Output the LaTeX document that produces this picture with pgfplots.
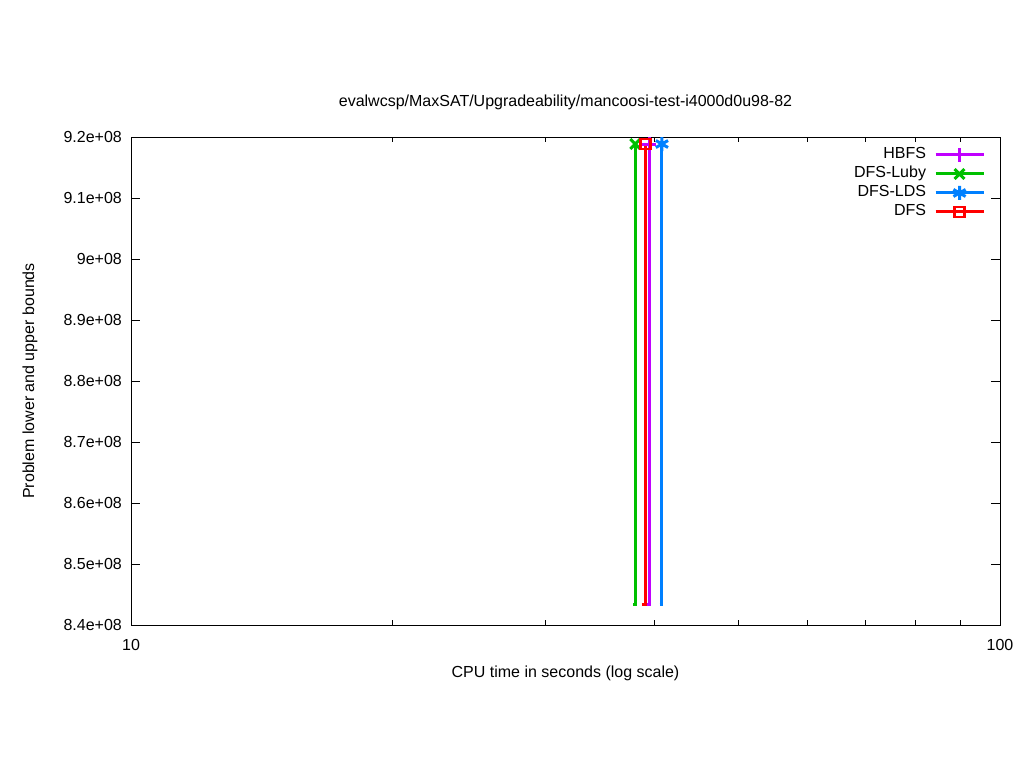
\documentclass[border=0pt]{standalone}
\usepackage{fontspec}
\setmainfont{Liberation Sans}
\usepackage{pgfplots}
\pgfplotsset{compat=1.18}
\definecolor{chbfs}{HTML}{C000FF}
\definecolor{cluby}{HTML}{00C000}
\definecolor{clds}{HTML}{0080FF}
\definecolor{cdfs}{HTML}{FF0000}
\begin{document}
\fontsize{16}{19}\selectfont
\begin{tikzpicture}[x=1pt,y=1pt]
\useasboundingbox (0,0) rectangle (1024,768);
\begin{axis}[
  at={(131pt,143pt)}, anchor=south west,
  scale only axis, width=869pt, height=488pt,
  xmode=log, xmin=10, xmax=100, ymin=8.4e8, ymax=9.2e8,
  xtick={10,100}, xticklabels={10,100},
  minor xtick={20,30,40,50,60,70,80,90},
  ytick={8.4e8,8.5e8,8.6e8,8.7e8,8.8e8,8.9e8,9.0e8,9.1e8,9.2e8},
  yticklabels={8.4e+08,8.5e+08,8.6e+08,8.7e+08,8.8e+08,8.9e+08,9e+08,9.1e+08,9.2e+08},
  scaled y ticks=false,
  tick align=inside, major tick length=9pt, minor tick length=5pt,
  every tick/.style={black, line width=1pt},
  axis line style={line width=1pt},
  yticklabel style={inner sep=0pt, xshift=-9pt},
  xticklabel style={inner sep=0pt, yshift=-14pt},
  title={evalwcsp/MaxSAT/Upgradeability/mancoosi-test-i4000d0u98-82},
  title style={at={(axis description cs:0.5,1.0512)}, anchor=base, inner sep=0pt},
  xlabel={CPU time in seconds (log scale)},
  xlabel style={at={(axis description cs:0.5,-0.1066)}, anchor=base, inner sep=0pt},
  ylabel={Problem lower and upper bounds},
  ylabel style={at={(axis description cs:-0.1162,0.5)}, anchor=center, inner sep=0pt},
  legend plot pos=right,
  legend cell align=right,
  legend style={draw=none, fill=none, inner sep=0pt, outer sep=0pt,
    at={(axis description cs:0.98274,0.9775)}, anchor=north east,
    nodes={inner sep=0pt, text height=11pt, text depth=3pt},
    column sep=8pt, row sep=5pt},
  legend image code/.code={\draw[#1, mark=none] (0pt,0pt) -- (48pt,0pt); \draw[#1] plot coordinates {(24pt,0pt)};},
]
% HBFS
\addplot[chbfs, line width=3pt, forget plot] coordinates {(39.25,8.4344e8) (39.46,8.4344e8) (39.46,9.1885e8)};
\addplot[chbfs, line width=3pt, only marks, mark=+, mark size=7pt] coordinates {(39.46,9.1885e8)};
\addlegendentry{HBFS}
% DFS-Luby
\addplot[cluby, line width=3pt, forget plot] coordinates {(37.83,8.4344e8) (38.05,8.4344e8) (38.05,9.1885e8)};
\addplot[cluby, line width=3pt, only marks, mark=x, mark size=7pt] coordinates {(38.05,9.1885e8)};
\addlegendentry{DFS-Luby}
% DFS-LDS
\addplot[clds, line width=3pt, forget plot] coordinates {(40.58,8.4344e8) (40.83,8.4344e8) (40.83,9.1885e8)};
\addplot[clds, line width=3pt, only marks, mark=asterisk, mark size=7pt] coordinates {(40.83,9.1885e8)};
\addlegendentry{DFS-LDS}
% DFS
\addplot[cdfs, line width=3pt, forget plot] coordinates {(38.73,8.4344e8) (39.08,8.4344e8) (39.08,9.1885e8)};
\addplot[cdfs, line width=3pt, only marks, mark=square, mark size=5pt, mark options={line width=2.5pt}] coordinates {(39.08,9.1885e8)};
\addlegendentry{DFS}
\end{axis}
\end{tikzpicture}
\end{document}
